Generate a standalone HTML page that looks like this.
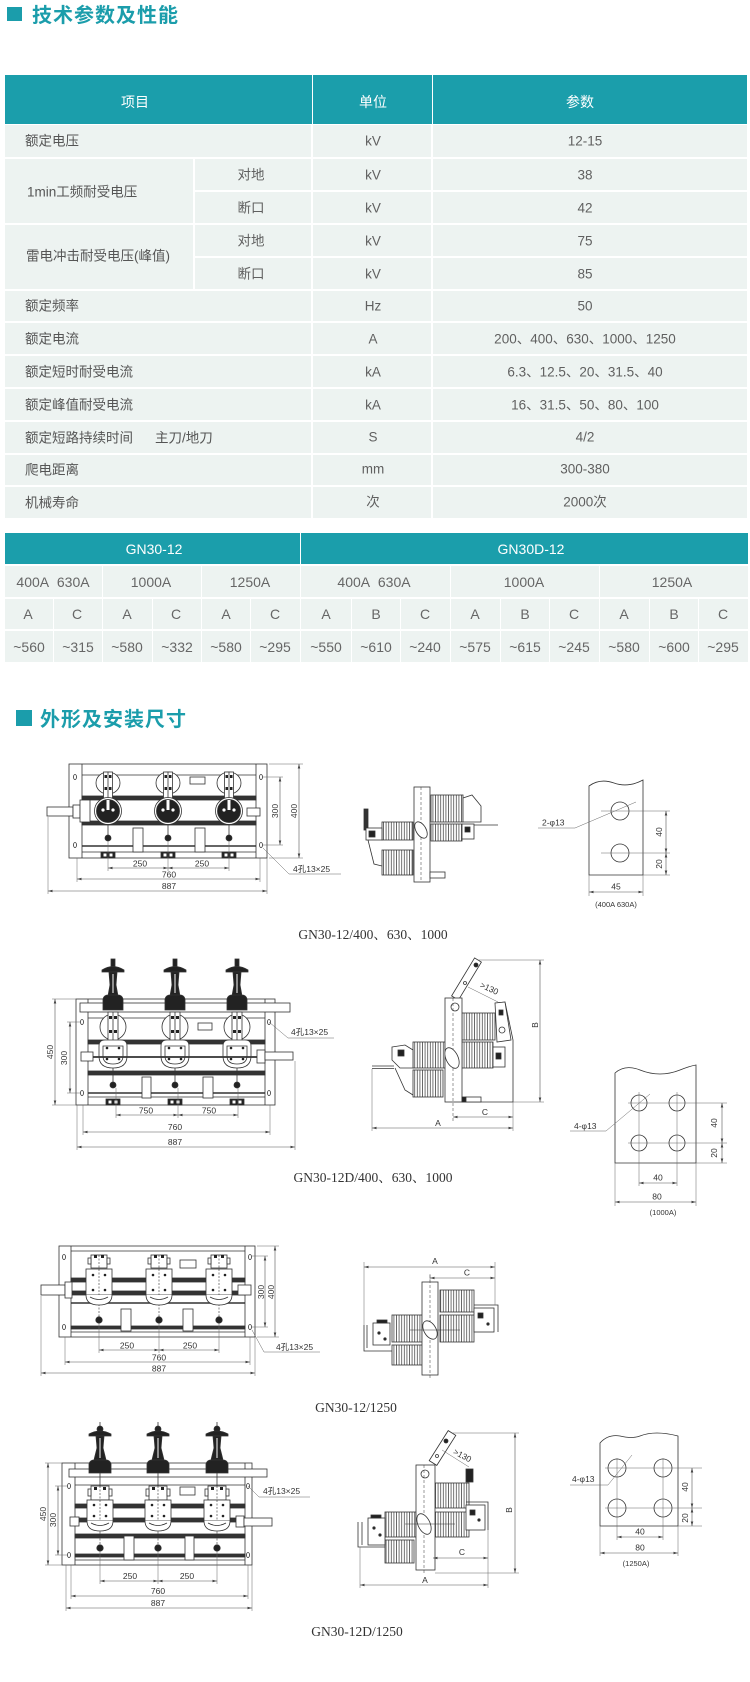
<!DOCTYPE html>
<html lang="zh"><head><meta charset="utf-8"><title>GN30</title>
<style>
*{margin:0;padding:0;box-sizing:border-box}
html,body{width:750px;height:1682px;background:#fff;overflow:hidden}
body{position:relative;font-family:"Liberation Sans","Noto Sans CJK SC",sans-serif}
.sq{position:absolute;background:#1b9dab}
.tt{position:absolute;font-family:"Noto Sans CJK SC","WenQuanYi Zen Hei",sans-serif;font-weight:700;font-size:20px;line-height:20px;letter-spacing:1px;color:#1b9dab;white-space:nowrap}
.c{position:absolute;background:#edf3f1}
.h{background:#1b9eab}
.x{position:absolute;line-height:1;white-space:nowrap;transform:translate(-50%,-50%);font-size:13.5px;color:#606060}
.y{position:absolute;line-height:1;white-space:nowrap;transform:translateY(-50%);font-size:13.5px;color:#555}
.w{color:#fff;font-size:14px}
.z{font-size:14px;color:#666}
svg{position:absolute;left:0;top:0}
</style></head><body>

<div class="sq" style="left:7px;top:7px;width:15px;height:14px"></div>
<div class="tt" style="left:32px;top:4px">技术参数及性能</div>

<!-- TABLE 1 -->
<div class="c h" style="left:5px;top:75px;width:307px;height:49px"></div>
<div class="c h" style="left:313px;top:75px;width:119px;height:49px"></div>
<div class="c h" style="left:433px;top:75px;width:314px;height:49px"></div>
<div class="x w" style="left:135px;top:102px">项目</div>
<div class="x w" style="left:373px;top:102px">单位</div>
<div class="x w" style="left:580px;top:102px">参数</div>

<!-- r1 -->
<div class="c" style="left:5px;top:125px;width:306px;height:32px"></div>
<div class="c" style="left:313px;top:125px;width:118px;height:32px"></div>
<div class="c" style="left:433px;top:125px;width:314px;height:32px"></div>
<!-- r2 -->
<div class="c" style="left:5px;top:159px;width:188px;height:64px"></div>
<div class="c" style="left:195px;top:159px;width:116px;height:31px"></div>
<div class="c" style="left:313px;top:159px;width:118px;height:31px"></div>
<div class="c" style="left:433px;top:159px;width:314px;height:31px"></div>
<div class="c" style="left:195px;top:192px;width:116px;height:31px"></div>
<div class="c" style="left:313px;top:192px;width:118px;height:31px"></div>
<div class="c" style="left:433px;top:192px;width:314px;height:31px"></div>
<!-- r3 -->
<div class="c" style="left:5px;top:225px;width:188px;height:64px"></div>
<div class="c" style="left:195px;top:225px;width:116px;height:31px"></div>
<div class="c" style="left:313px;top:225px;width:118px;height:31px"></div>
<div class="c" style="left:433px;top:225px;width:314px;height:31px"></div>
<div class="c" style="left:195px;top:258px;width:116px;height:31px"></div>
<div class="c" style="left:313px;top:258px;width:118px;height:31px"></div>
<div class="c" style="left:433px;top:258px;width:314px;height:31px"></div>
<!-- r4..r10 -->
<div class="c" style="left:5px;top:291px;width:306px;height:30px"></div>
<div class="c" style="left:313px;top:291px;width:118px;height:30px"></div>
<div class="c" style="left:433px;top:291px;width:314px;height:30px"></div>
<div class="c" style="left:5px;top:323px;width:306px;height:31px"></div>
<div class="c" style="left:313px;top:323px;width:118px;height:31px"></div>
<div class="c" style="left:433px;top:323px;width:314px;height:31px"></div>
<div class="c" style="left:5px;top:356px;width:306px;height:31px"></div>
<div class="c" style="left:313px;top:356px;width:118px;height:31px"></div>
<div class="c" style="left:433px;top:356px;width:314px;height:31px"></div>
<div class="c" style="left:5px;top:389px;width:306px;height:31px"></div>
<div class="c" style="left:313px;top:389px;width:118px;height:31px"></div>
<div class="c" style="left:433px;top:389px;width:314px;height:31px"></div>
<div class="c" style="left:5px;top:422px;width:306px;height:31px"></div>
<div class="c" style="left:313px;top:422px;width:118px;height:31px"></div>
<div class="c" style="left:433px;top:422px;width:314px;height:31px"></div>
<div class="c" style="left:5px;top:455px;width:306px;height:30px"></div>
<div class="c" style="left:313px;top:455px;width:118px;height:30px"></div>
<div class="c" style="left:433px;top:455px;width:314px;height:30px"></div>
<div class="c" style="left:5px;top:487px;width:306px;height:31px"></div>
<div class="c" style="left:313px;top:487px;width:118px;height:31px"></div>
<div class="c" style="left:433px;top:487px;width:314px;height:31px"></div>

<div class="y" style="left:25px;top:141px">额定电压</div>
<div class="x" style="left:373px;top:141px">kV</div>
<div class="x" style="left:585px;top:141px">12-15</div>

<div class="y" style="left:27px;top:192px">1min工频耐受电压</div>
<div class="x" style="left:251px;top:175px">对地</div>
<div class="x" style="left:373px;top:175px">kV</div>
<div class="x" style="left:585px;top:175px">38</div>
<div class="x" style="left:251px;top:208px">断口</div>
<div class="x" style="left:373px;top:208px">kV</div>
<div class="x" style="left:585px;top:208px">42</div>

<div class="y" style="left:26px;top:256px">雷电冲击耐受电压(峰值)</div>
<div class="x" style="left:251px;top:241px">对地</div>
<div class="x" style="left:373px;top:241px">kV</div>
<div class="x" style="left:585px;top:241px">75</div>
<div class="x" style="left:251px;top:274px">断口</div>
<div class="x" style="left:373px;top:274px">kV</div>
<div class="x" style="left:585px;top:274px">85</div>

<div class="y" style="left:25px;top:306px">额定频率</div>
<div class="x" style="left:373px;top:306px">Hz</div>
<div class="x" style="left:585px;top:306px">50</div>

<div class="y" style="left:25px;top:339px">额定电流</div>
<div class="x" style="left:373px;top:339px">A</div>
<div class="x" style="left:585px;top:339px">200、400、630、1000、1250</div>

<div class="y" style="left:25px;top:372px">额定短时耐受电流</div>
<div class="x" style="left:373px;top:372px">kA</div>
<div class="x" style="left:585px;top:372px">6.3、12.5、20、31.5、40</div>

<div class="y" style="left:25px;top:405px">额定峰值耐受电流</div>
<div class="x" style="left:373px;top:405px">kA</div>
<div class="x" style="left:585px;top:405px">16、31.5、50、80、100</div>

<div class="y" style="left:25px;top:438px">额定短路持续时间</div>
<div class="y" style="left:155px;top:438px">主刀/地刀</div>
<div class="x" style="left:373px;top:437px">S</div>
<div class="x" style="left:585px;top:437px">4/2</div>

<div class="y" style="left:25px;top:470px">爬电距离</div>
<div class="x" style="left:373px;top:469px">mm</div>
<div class="x" style="left:585px;top:469px">300-380</div>

<div class="y" style="left:25px;top:503px">机械寿命</div>
<div class="x" style="left:373px;top:502px">次</div>
<div class="x" style="left:585px;top:502px">2000次</div>

<!-- TABLE 2 -->
<div class="c h" style="left:5px;top:533px;width:295px;height:31px"></div>
<div class="c h" style="left:301px;top:533px;width:447px;height:31px"></div>
<div class="x w" style="left:154px;top:549px">GN30-12</div>
<div class="x w" style="left:531px;top:549px">GN30D-12</div>

<div class="c" style="left:5px;top:566px;width:97px;height:31px"></div>
<div class="c" style="left:103px;top:566px;width:98px;height:31px"></div>
<div class="c" style="left:202px;top:566px;width:98px;height:31px"></div>
<div class="c" style="left:301px;top:566px;width:149px;height:31px"></div>
<div class="c" style="left:451px;top:566px;width:148px;height:31px"></div>
<div class="c" style="left:600px;top:566px;width:148px;height:31px"></div>
<div class="x z" style="left:53px;top:582px">400A&nbsp;&nbsp;630A</div>
<div class="x z" style="left:151px;top:582px">1000A</div>
<div class="x z" style="left:250px;top:582px">1250A</div>
<div class="x z" style="left:374px;top:582px">400A&nbsp;&nbsp;630A</div>
<div class="x z" style="left:524px;top:582px">1000A</div>
<div class="x z" style="left:672px;top:582px">1250A</div>

<!-- row3 & row4 cells -->
<div class="c" style="left:5px;top:599px;width:48px;height:30px"></div>
<div class="c" style="left:54px;top:599px;width:48px;height:30px"></div>
<div class="c" style="left:103px;top:599px;width:49px;height:30px"></div>
<div class="c" style="left:153px;top:599px;width:48px;height:30px"></div>
<div class="c" style="left:202px;top:599px;width:48px;height:30px"></div>
<div class="c" style="left:251px;top:599px;width:49px;height:30px"></div>
<div class="c" style="left:301px;top:599px;width:50px;height:30px"></div>
<div class="c" style="left:352px;top:599px;width:48px;height:30px"></div>
<div class="c" style="left:401px;top:599px;width:49px;height:30px"></div>
<div class="c" style="left:451px;top:599px;width:49px;height:30px"></div>
<div class="c" style="left:501px;top:599px;width:48px;height:30px"></div>
<div class="c" style="left:550px;top:599px;width:49px;height:30px"></div>
<div class="c" style="left:600px;top:599px;width:49px;height:30px"></div>
<div class="c" style="left:650px;top:599px;width:48px;height:30px"></div>
<div class="c" style="left:699px;top:599px;width:49px;height:30px"></div>

<div class="c" style="left:5px;top:631px;width:48px;height:31px"></div>
<div class="c" style="left:54px;top:631px;width:48px;height:31px"></div>
<div class="c" style="left:103px;top:631px;width:49px;height:31px"></div>
<div class="c" style="left:153px;top:631px;width:48px;height:31px"></div>
<div class="c" style="left:202px;top:631px;width:48px;height:31px"></div>
<div class="c" style="left:251px;top:631px;width:49px;height:31px"></div>
<div class="c" style="left:301px;top:631px;width:50px;height:31px"></div>
<div class="c" style="left:352px;top:631px;width:48px;height:31px"></div>
<div class="c" style="left:401px;top:631px;width:49px;height:31px"></div>
<div class="c" style="left:451px;top:631px;width:49px;height:31px"></div>
<div class="c" style="left:501px;top:631px;width:48px;height:31px"></div>
<div class="c" style="left:550px;top:631px;width:49px;height:31px"></div>
<div class="c" style="left:600px;top:631px;width:49px;height:31px"></div>
<div class="c" style="left:650px;top:631px;width:48px;height:31px"></div>
<div class="c" style="left:699px;top:631px;width:49px;height:31px"></div>

<div class="x z" style="left:28px;top:614px">A</div>
<div class="x z" style="left:77px;top:614px">C</div>
<div class="x z" style="left:127px;top:614px">A</div>
<div class="x z" style="left:176px;top:614px">C</div>
<div class="x z" style="left:226px;top:614px">A</div>
<div class="x z" style="left:275px;top:614px">C</div>
<div class="x z" style="left:326px;top:614px">A</div>
<div class="x z" style="left:376px;top:614px">B</div>
<div class="x z" style="left:425px;top:614px">C</div>
<div class="x z" style="left:475px;top:614px">A</div>
<div class="x z" style="left:525px;top:614px">B</div>
<div class="x z" style="left:574px;top:614px">C</div>
<div class="x z" style="left:624px;top:614px">A</div>
<div class="x z" style="left:674px;top:614px">B</div>
<div class="x z" style="left:723px;top:614px">C</div>

<div class="x z" style="left:29px;top:647px">~560</div>
<div class="x z" style="left:78px;top:647px">~315</div>
<div class="x z" style="left:127px;top:647px">~580</div>
<div class="x z" style="left:177px;top:647px">~332</div>
<div class="x z" style="left:226px;top:647px">~580</div>
<div class="x z" style="left:275px;top:647px">~295</div>
<div class="x z" style="left:326px;top:647px">~550</div>
<div class="x z" style="left:376px;top:647px">~610</div>
<div class="x z" style="left:425px;top:647px">~240</div>
<div class="x z" style="left:475px;top:647px">~575</div>
<div class="x z" style="left:525px;top:647px">~615</div>
<div class="x z" style="left:574px;top:647px">~245</div>
<div class="x z" style="left:624px;top:647px">~580</div>
<div class="x z" style="left:674px;top:647px">~600</div>
<div class="x z" style="left:723px;top:647px">~295</div>

<div class="sq" style="left:16px;top:710px;width:16px;height:16px"></div>
<div class="tt" style="left:40px;top:708px">外形及安装尺寸</div>

<svg width="750" height="1682" viewBox="0 0 750 1682">
<defs>
<marker id="ar" viewBox="0 0 6 4" refX="6" refY="2" markerWidth="5" markerHeight="3" orient="auto-start-reverse" markerUnits="userSpaceOnUse"><path d="M0,0.3 L6,2 L0,3.7z" fill="#444"/></marker>
<pattern id="rb" width="2.6" height="6" patternUnits="userSpaceOnUse"><rect width="2.6" height="6" fill="#fff"/><line x1="1.3" y1="0" x2="1.3" y2="6" stroke="#333" stroke-width="0.7"/></pattern>

<g id="p1" stroke="#333" stroke-width="0.8">
 <ellipse cx="0" cy="783" rx="12" ry="11" fill="#fff"/>
 <rect x="-4.5" y="772" width="9" height="26" fill="#fff"/>
 <line x1="0" y1="772" x2="0" y2="798"/>
 <rect x="-3.5" y="775" width="2.5" height="3" fill="#222" stroke="none"/>
 <rect x="1" y="775" width="2.5" height="3" fill="#222" stroke="none"/>
 <rect x="-3.5" y="787" width="2.5" height="3" fill="#222" stroke="none"/>
 <rect x="1" y="787" width="2.5" height="3" fill="#222" stroke="none"/>
 <circle cx="0" cy="811" r="13.5" fill="#fff"/>
 <circle cx="0" cy="811" r="11.5" fill="#222"/>
 <rect x="-1.5" y="800" width="3" height="10" fill="#fff" stroke="none"/>
 <circle cx="-5" cy="810" r="1.6" fill="#fff" stroke="none"/>
 <circle cx="5" cy="810" r="1.6" fill="#fff" stroke="none"/>
 <line x1="0" y1="824" x2="0" y2="836"/>
 <circle cx="0" cy="838" r="3" fill="#222"/>
 <rect x="-7" y="852" width="14" height="6" fill="#222"/>
 <rect x="-4.5" y="853.5" width="3" height="3" fill="#fff" stroke="none"/>
 <rect x="1.5" y="853.5" width="3" height="3" fill="#fff" stroke="none"/>
</g>

<g id="p2" stroke="#333" stroke-width="0.8">
 <rect x="-2" y="959" width="4" height="8" fill="#222"/>
 <path d="M-11,970 Q0,963 11,970 L11,972 L-11,972 Z" fill="#222"/>
 <path d="M-4,972 L4,972 L3,985 L5,996 L-5,996 L-3,985 Z" fill="#222"/>
 <line x1="0" y1="974" x2="0" y2="993" stroke="#fff" stroke-width="1"/>
 <path d="M-10,1010 L-10,999 Q-9,995 -5,995 L5,995 Q9,995 10,999 L10,1010 Z" fill="#222"/>
 <circle cx="0" cy="1027" r="13" fill="#fff"/>
 <rect x="-5" y="1012" width="10" height="30" fill="#fff"/>
 <line x1="0" y1="1012" x2="0" y2="1042"/>
 <rect x="-4" y="1016" width="3" height="3" fill="#222" stroke="none"/>
 <rect x="1" y="1016" width="3" height="3" fill="#222" stroke="none"/>
 <rect x="-4" y="1030" width="3" height="3" fill="#222" stroke="none"/>
 <rect x="1" y="1030" width="3" height="3" fill="#222" stroke="none"/>
 <path d="M-14,1046 Q-14,1040 -8,1040 L8,1040 Q14,1040 14,1046 L14,1056 Q14,1068 0,1068 Q-14,1068 -14,1056 Z" fill="#fff"/>
 <path d="M-10,1046 L10,1046 L10,1056 Q10,1064 0,1064 Q-10,1064 -10,1056 Z" fill="none"/>
 <circle cx="-6" cy="1048" r="1.3" fill="#222" stroke="none"/>
 <circle cx="6" cy="1048" r="1.3" fill="#222" stroke="none"/>
 <circle cx="-6" cy="1059" r="1.3" fill="#222" stroke="none"/>
 <circle cx="6" cy="1059" r="1.3" fill="#222" stroke="none"/>
 <line x1="0" y1="1068" x2="0" y2="1083"/>
 <circle cx="0" cy="1085" r="3" fill="#222"/>
 <rect x="-7" y="1099" width="14" height="6" fill="#222"/>
 <rect x="-4.5" y="1100.5" width="3" height="3" fill="#fff" stroke="none"/>
 <rect x="1.5" y="1100.5" width="3" height="3" fill="#fff" stroke="none"/>
</g>

<g id="p3" stroke="#333" stroke-width="0.8">
 <rect x="-8" y="1255" width="16" height="13" fill="#fff"/>
 <rect x="-11" y="1258" width="3" height="6" fill="#fff"/>
 <rect x="8" y="1258" width="3" height="6" fill="#fff"/>
 <rect x="-5" y="1255" width="3" height="3" fill="#222" stroke="none"/>
 <rect x="2" y="1255" width="3" height="3" fill="#222" stroke="none"/>
 <rect x="-13" y="1269" width="26" height="26" fill="#fff"/>
 <line x1="0" y1="1255" x2="0" y2="1318" stroke-dasharray="2,1.5" stroke-width="0.6"/>
 <circle cx="-6" cy="1275" r="1.3" fill="#222" stroke="none"/>
 <circle cx="6" cy="1275" r="1.3" fill="#222" stroke="none"/>
 <circle cx="-6" cy="1290" r="1.3" fill="#222" stroke="none"/>
 <circle cx="6" cy="1290" r="1.3" fill="#222" stroke="none"/>
 <path d="M-13,1295 Q-13,1305 0,1305 Q13,1305 13,1295" fill="#fff"/>
 <path d="M-9,1297 Q0,1302 9,1297" fill="none"/>
 <circle cx="0" cy="1320" r="3.2" fill="#222"/>
</g>

<g id="p4" stroke="#333" stroke-width="0.8">
 <line x1="0" y1="1422" x2="0" y2="1428"/>
 <circle cx="0" cy="1429" r="3" fill="#222"/>
 <path d="M-11,1434 Q0,1428 11,1434 L11,1436 L-11,1436 Z" fill="#222"/>
 <path d="M-4,1436 L4,1436 L3,1448 L6,1460 L-6,1460 L-3,1448 Z" fill="#222"/>
 <line x1="0" y1="1438" x2="0" y2="1458" stroke="#fff" stroke-width="1"/>
 <path d="M-11,1473 L-11,1464 Q-10,1460 -6,1460 L6,1460 Q10,1460 11,1464 L11,1473 Z" fill="#222"/>
 <line x1="0" y1="1473" x2="0" y2="1486"/>
 <rect x="-9" y="1486" width="18" height="14" fill="#fff"/>
 <rect x="-12" y="1489" width="3" height="7" fill="#fff"/>
 <rect x="9" y="1489" width="3" height="7" fill="#fff"/>
 <rect x="-6" y="1487" width="3" height="3" fill="#222" stroke="none"/>
 <rect x="3" y="1487" width="3" height="3" fill="#222" stroke="none"/>
 <rect x="-13" y="1500" width="26" height="21" fill="#fff"/>
 <line x1="0" y1="1486" x2="0" y2="1545" stroke-dasharray="2,1.5" stroke-width="0.6"/>
 <circle cx="-6" cy="1505" r="1.3" fill="#222" stroke="none"/>
 <circle cx="6" cy="1505" r="1.3" fill="#222" stroke="none"/>
 <circle cx="-6" cy="1516" r="1.3" fill="#222" stroke="none"/>
 <circle cx="6" cy="1516" r="1.3" fill="#222" stroke="none"/>
 <path d="M-13,1521 Q-13,1531 0,1531 Q13,1531 13,1521" fill="#fff"/>
 <path d="M-9,1523 Q0,1528 9,1523" fill="none"/>
 <circle cx="0" cy="1548" r="3.2" fill="#222"/>
</g>
</defs>

<!-- ================= DRAWING 1 ================= -->
<g stroke="#333" stroke-width="0.8" fill="none">
 <rect x="69" y="764" width="198" height="94" fill="#fff"/>
 <line x1="82" y1="764" x2="82" y2="858"/>
 <line x1="256" y1="764" x2="256" y2="858"/>
 <line x1="82" y1="775" x2="256" y2="775"/>
 <rect x="82" y="796" width="174" height="4" fill="#333"/>
 <rect x="82" y="821" width="174" height="4" fill="#333"/>
 <line x1="82" y1="846" x2="256" y2="846" stroke-width="1.6"/>
 <line x1="82" y1="852" x2="256" y2="852"/>
 <ellipse cx="75" cy="777" rx="1.5" ry="2.5"/>
 <ellipse cx="75" cy="845" rx="1.5" ry="2.5"/>
 <ellipse cx="261" cy="777" rx="1.5" ry="2.5"/>
 <ellipse cx="261" cy="845" rx="1.5" ry="2.5"/>
 <rect x="190" y="777" width="15" height="7"/>
 <rect x="133" y="828" width="10" height="24" fill="#fff"/>
 <rect x="195" y="828" width="10" height="24" fill="#fff"/>
 <rect x="47" y="807" width="26" height="9" fill="#fff"/>
 <rect x="73" y="805" width="7" height="13" fill="#fff"/>
 <rect x="80" y="800" width="10" height="22" fill="#fff"/>
 <rect x="247" y="808" width="13" height="8" fill="#fff"/>
</g>
<use href="#p1" x="108"/><use href="#p1" x="168"/><use href="#p1" x="229"/>
<g stroke="#666" stroke-width="0.5" fill="none">
 <line x1="108" y1="841" x2="108" y2="871"/>
 <line x1="168" y1="841" x2="168" y2="871"/>
 <line x1="229" y1="841" x2="229" y2="871"/>
 <line x1="77" y1="858" x2="77" y2="882"/>
 <line x1="260" y1="858" x2="260" y2="882"/>
 <line x1="48" y1="817" x2="48" y2="894"/>
 <line x1="267" y1="858" x2="267" y2="894"/>
 <line x1="263" y1="777" x2="283" y2="777"/>
 <line x1="263" y1="845" x2="283" y2="845"/>
 <line x1="269" y1="764" x2="303" y2="764"/>
 <line x1="269" y1="858" x2="303" y2="858"/>
 <polyline points="263,848 289,874 341,874"/>
</g>
<g stroke="#555" stroke-width="0.6" marker-start="url(#ar)" marker-end="url(#ar)">
 <line x1="108" y1="868" x2="168" y2="868"/>
 <line x1="168" y1="868" x2="229" y2="868"/>
 <line x1="77" y1="879" x2="260" y2="879"/>
 <line x1="48" y1="891" x2="267" y2="891"/>
 <line x1="280" y1="777" x2="280" y2="845"/>
 <line x1="299" y1="764" x2="299" y2="858"/>
</g>
<g font-family="'Liberation Sans','Noto Sans CJK SC',sans-serif" font-size="8.5" fill="#333" text-anchor="middle">
 <text x="140" y="866.5">250</text><text x="202" y="866.5">250</text>
 <text x="169" y="877.5">760</text>
 <text x="169" y="889">887</text>
 <text transform="translate(278,811) rotate(-90)">300</text>
 <text transform="translate(297,811) rotate(-90)">400</text>
 <text x="293" y="872" text-anchor="start">4孔13×25</text>
</g>

<!-- side view 1 -->
<g stroke="#333" stroke-width="0.8" fill="#fff">
 <rect x="431" y="795" width="32" height="27" fill="url(#rb)"/>
 <rect x="431" y="824" width="31" height="17" fill="url(#rb)"/>
 <path d="M463,798 L472,795 L481,806 L481,822 L463,822 Z"/>
 <rect x="462" y="824" width="12" height="15"/>
 <rect x="465" y="827" width="5" height="5" fill="#222"/>
 <line x1="474" y1="825" x2="498" y2="825"/>
 <rect x="382" y="822" width="31" height="18" fill="url(#rb)"/>
 <rect x="382" y="850" width="31" height="25" fill="url(#rb)"/>
 <rect x="364" y="809" width="4" height="21" fill="#333"/>
 <rect x="366" y="828" width="16" height="12"/>
 <rect x="369" y="831" width="6" height="6" fill="#222"/>
 <polyline points="368,840 374,864 382,866" fill="none"/>
 <rect x="414" y="787" width="16" height="95"/>
 <line x1="421" y1="787" x2="421" y2="882" stroke-dasharray="3,2" stroke-width="0.5"/>
 <ellipse cx="421" cy="830" rx="5" ry="9" transform="rotate(-30 421 830)"/>
 <rect x="430" y="872" width="15" height="6"/>
</g>

<!-- busbar 1 -->
<g stroke="#333" stroke-width="0.8" fill="#fff">
 <path d="M589,786 Q600,778 614,783 Q628,788 643,780 L643,875 L589,875 Z"/>
 <circle cx="620" cy="811" r="9"/>
 <circle cx="620" cy="853" r="9"/>
</g>
<g stroke="#666" stroke-width="0.5" fill="none">
 <line x1="601" y1="811" x2="670" y2="811"/>
 <line x1="601" y1="853" x2="670" y2="853"/>
 <line x1="643" y1="875" x2="670" y2="875"/>
 <line x1="589" y1="875" x2="589" y2="896"/>
 <line x1="643" y1="875" x2="643" y2="896"/>
 <polyline points="636,802 575,828 538,828"/>
</g>
<g stroke="#555" stroke-width="0.6" marker-start="url(#ar)" marker-end="url(#ar)">
 <line x1="666" y1="811" x2="666" y2="853"/>
 <line x1="666" y1="853" x2="666" y2="875"/>
 <line x1="589" y1="892" x2="643" y2="892"/>
</g>
<g font-family="'Liberation Sans','Noto Sans CJK SC',sans-serif" font-size="8.5" fill="#333" text-anchor="middle">
 <text x="542" y="825.5" text-anchor="start">2-φ13</text>
 <text transform="translate(662,832) rotate(-90)">40</text>
 <text transform="translate(662,864) rotate(-90)">20</text>
 <text x="616" y="889.5">45</text>
 <text x="616" y="907" font-size="7.5">(400A 630A)</text>
</g>
<text x="373" y="939" text-anchor="middle" font-family="'Liberation Serif','Noto Serif CJK SC',serif" font-size="13.5" fill="#333">GN30-12/400、630、1000</text>

<!-- ================= DRAWING 2 ================= -->
<g stroke="#333" stroke-width="0.8" fill="none">
 <rect x="76" y="999" width="199" height="106" fill="#fff"/>
 <line x1="88" y1="999" x2="88" y2="1105"/>
 <line x1="265" y1="999" x2="265" y2="1105"/>
 <line x1="88" y1="1018" x2="265" y2="1018"/>
 <rect x="88" y="1040" width="177" height="4" fill="#333"/>
 <rect x="88" y="1071" width="177" height="4" fill="#333"/>
 <line x1="88" y1="1093" x2="265" y2="1093" stroke-width="1.6"/>
 <line x1="88" y1="1097" x2="265" y2="1097"/>
 <rect x="80" y="1003" width="210" height="9" fill="#fff"/>
 <ellipse cx="82" cy="1022" rx="1.5" ry="2.5"/>
 <ellipse cx="82" cy="1093" rx="1.5" ry="2.5"/>
 <ellipse cx="269" cy="1022" rx="1.5" ry="2.5"/>
 <ellipse cx="269" cy="1093" rx="1.5" ry="2.5"/>
 <rect x="198" y="1023" width="14" height="7"/>
</g>
<use href="#p2" x="113"/><use href="#p2" x="175"/><use href="#p2" x="237"/>
<g stroke="#333" stroke-width="0.8" fill="#fff">
 <line x1="88" y1="1057" x2="265" y2="1057" stroke-width="1.8"/>
 <rect x="142" y="1077" width="9" height="21"/>
 <rect x="203" y="1077" width="10" height="21"/>
 <rect x="81" y="1052" width="12" height="9"/>
 <rect x="257" y="1050" width="8" height="13"/>
 <rect x="265" y="1052" width="28" height="8"/>
</g>
<g stroke="#666" stroke-width="0.5" fill="none">
 <line x1="52" y1="999" x2="76" y2="999"/>
 <line x1="52" y1="1105" x2="76" y2="1105"/>
 <line x1="67" y1="1022" x2="80" y2="1022"/>
 <line x1="67" y1="1093" x2="80" y2="1093"/>
 <line x1="116" y1="1088" x2="116" y2="1118"/>
 <line x1="178" y1="1088" x2="178" y2="1118"/>
 <line x1="238" y1="1088" x2="238" y2="1118"/>
 <line x1="83" y1="1105" x2="83" y2="1135"/>
 <line x1="270" y1="1105" x2="270" y2="1135"/>
 <line x1="77" y1="1105" x2="77" y2="1150"/>
 <line x1="295" y1="1061" x2="295" y2="1150"/>
 <polyline points="269,1022 288,1038 334,1038"/>
</g>
<g stroke="#555" stroke-width="0.6" marker-start="url(#ar)" marker-end="url(#ar)">
 <line x1="55" y1="999" x2="55" y2="1105"/>
 <line x1="70" y1="1022" x2="70" y2="1093"/>
 <line x1="116" y1="1115" x2="178" y2="1115"/>
 <line x1="178" y1="1115" x2="238" y2="1115"/>
 <line x1="83" y1="1132" x2="270" y2="1132"/>
 <line x1="77" y1="1147" x2="295" y2="1147"/>
</g>
<g font-family="'Liberation Sans','Noto Sans CJK SC',sans-serif" font-size="8.5" fill="#333" text-anchor="middle">
 <text transform="translate(53,1052) rotate(-90)">450</text>
 <text transform="translate(67,1058) rotate(-90)">300</text>
 <text x="146" y="1113.5">750</text><text x="209" y="1113.5">750</text>
 <text x="175" y="1130">760</text>
 <text x="175" y="1145">887</text>
 <text x="291" y="1035" text-anchor="start">4孔13×25</text>
</g>

<!-- side view 2 -->
<g stroke="#333" stroke-width="0.8" fill="#fff">
 <polygon points="451.6,995.9 458.4,1000.1 481.4,962.1 474.6,957.9"/>
 <circle cx="476" cy="965" r="2" fill="#222"/>
 <circle cx="465" cy="983" r="1.5"/>
 <rect x="462" y="1013" width="33" height="27" fill="url(#rb)"/>
 <rect x="462" y="1042" width="31" height="26" fill="url(#rb)"/>
 <path d="M495,1003 L505,1002 L513,1040 L513,1102 L462,1102" fill="none"/>
 <path d="M495,1003 L505,1002 L511,1040 L497,1042 Z"/>
 <rect x="499" y="1010" width="4" height="5" fill="#222"/>
 <circle cx="502" cy="1030" r="3"/>
 <rect x="493" y="1047" width="12" height="20"/>
 <rect x="496" y="1053" width="5" height="6" fill="#222"/>
 <rect x="413" y="1042" width="32" height="26" fill="url(#rb)"/>
 <rect x="413" y="1070" width="30" height="27" fill="url(#rb)"/>
 <path d="M392,1047 L405,1045 L413,1050 L413,1068 L400,1068 L392,1060 Z"/>
 <rect x="398" y="1050" width="6" height="6" fill="#222"/>
 <line x1="372" y1="1066" x2="394" y2="1066"/>
 <line x1="372" y1="1068.5" x2="394" y2="1068.5"/>
 <polyline points="395,1068 405,1090 413,1095" fill="none"/>
 <rect x="445" y="998" width="17" height="104"/>
 <circle cx="455" cy="1007" r="4"/>
 <line x1="453" y1="998" x2="453" y2="1121" stroke-dasharray="3,2" stroke-width="0.5"/>
 <ellipse cx="452" cy="1058" rx="6" ry="11" transform="rotate(-25 452 1058)"/>
 <rect x="462" y="1097" width="4" height="5" fill="#222"/>
 <rect x="466" y="1097" width="15" height="5"/>
</g>
<g stroke="#666" stroke-width="0.5" fill="none">
 <line x1="478" y1="960" x2="544" y2="960"/>
 <line x1="513" y1="1102" x2="544" y2="1102"/>
 <line x1="468" y1="987" x2="498" y2="1002"/>
 <line x1="372" y1="1069" x2="372" y2="1131"/>
 <line x1="513" y1="1102" x2="513" y2="1131"/>
</g>
<g stroke="#555" stroke-width="0.6" marker-start="url(#ar)" marker-end="url(#ar)">
 <line x1="540" y1="960" x2="540" y2="1102"/>
 <line x1="453" y1="1117" x2="513" y2="1117"/>
 <line x1="372" y1="1128" x2="513" y2="1128"/>
</g>
<g font-family="'Liberation Sans','Noto Sans CJK SC',sans-serif" font-size="8.5" fill="#333" text-anchor="middle">
 <text transform="translate(488,991) rotate(25)">&gt;130</text>
 <text transform="translate(538,1025) rotate(-90)">B</text>
 <text x="485" y="1115">C</text>
 <text x="438" y="1126">A</text>
</g>

<!-- busbar 2 -->
<g stroke="#333" stroke-width="0.8" fill="#fff">
 <path d="M615,1073 Q625,1064 640,1070 Q660,1078 680,1070 Q690,1066 696,1065 L696,1163 L615,1163 Z"/>
 <circle cx="639" cy="1103" r="8"/>
 <circle cx="677" cy="1103" r="8"/>
 <circle cx="639" cy="1143" r="8"/>
 <circle cx="677" cy="1143" r="8"/>
</g>
<g stroke="#666" stroke-width="0.5" fill="none">
 <line x1="628" y1="1103" x2="727" y2="1103"/>
 <line x1="628" y1="1143" x2="727" y2="1143"/>
 <line x1="696" y1="1163" x2="727" y2="1163"/>
 <line x1="639" y1="1092" x2="639" y2="1186"/>
 <line x1="677" y1="1092" x2="677" y2="1186"/>
 <line x1="615" y1="1163" x2="615" y2="1206"/>
 <line x1="696" y1="1163" x2="696" y2="1206"/>
 <polyline points="650,1094 606,1131 570,1131"/>
</g>
<g stroke="#555" stroke-width="0.6" marker-start="url(#ar)" marker-end="url(#ar)">
 <line x1="722" y1="1103" x2="722" y2="1143"/>
 <line x1="722" y1="1143" x2="722" y2="1163"/>
 <line x1="639" y1="1183" x2="677" y2="1183"/>
 <line x1="615" y1="1202" x2="696" y2="1202"/>
</g>
<g font-family="'Liberation Sans','Noto Sans CJK SC',sans-serif" font-size="8.5" fill="#333" text-anchor="middle">
 <text x="574" y="1129" text-anchor="start">4-φ13</text>
 <text transform="translate(717,1123) rotate(-90)">40</text>
 <text transform="translate(717,1153) rotate(-90)">20</text>
 <text x="658" y="1180.5">40</text>
 <text x="657" y="1199.5">80</text>
 <text x="663" y="1215" font-size="7.5">(1000A)</text>
</g>
<text x="373" y="1182" text-anchor="middle" font-family="'Liberation Serif','Noto Serif CJK SC',serif" font-size="13.5" fill="#333">GN30-12D/400、630、1000</text>

<!-- ================= DRAWING 3 ================= -->
<g stroke="#333" stroke-width="0.8" fill="none">
 <rect x="59" y="1246" width="196" height="91" fill="#fff"/>
 <line x1="71" y1="1246" x2="71" y2="1337"/>
 <line x1="245" y1="1246" x2="245" y2="1337"/>
 <line x1="71" y1="1251" x2="245" y2="1251"/>
 <rect x="71" y="1278" width="174" height="4" fill="#333"/>
 <rect x="71" y="1291" width="174" height="4" fill="#333"/>
 <line x1="71" y1="1303" x2="245" y2="1303" stroke-width="1.4"/>
 <rect x="71" y="1326" width="174" height="3" fill="#333"/>
 <line x1="71" y1="1332" x2="245" y2="1332"/>
 <ellipse cx="64" cy="1257" rx="1.5" ry="2.5"/>
 <ellipse cx="64" cy="1327" rx="1.5" ry="2.5"/>
 <ellipse cx="250" cy="1257" rx="1.5" ry="2.5"/>
 <ellipse cx="250" cy="1327" rx="1.5" ry="2.5"/>
 <rect x="180" y="1260" width="16" height="8"/>
</g>
<use href="#p3" x="99"/><use href="#p3" x="159"/><use href="#p3" x="219"/>
<g stroke="#333" stroke-width="0.8" fill="#fff">
 <rect x="121" y="1309" width="10" height="22"/>
 <rect x="183" y="1309" width="10" height="22"/>
 <rect x="41" y="1285" width="24" height="10"/>
 <rect x="65" y="1282" width="7" height="16"/>
 <rect x="238" y="1285" width="13" height="10"/>
</g>
<g stroke="#666" stroke-width="0.5" fill="none">
 <line x1="99" y1="1323" x2="99" y2="1353"/>
 <line x1="159" y1="1323" x2="159" y2="1353"/>
 <line x1="219" y1="1323" x2="219" y2="1353"/>
 <line x1="65" y1="1337" x2="65" y2="1365"/>
 <line x1="250" y1="1337" x2="250" y2="1365"/>
 <line x1="41" y1="1296" x2="41" y2="1376"/>
 <line x1="255" y1="1337" x2="255" y2="1376"/>
 <line x1="252" y1="1256" x2="268" y2="1256"/>
 <line x1="252" y1="1327" x2="268" y2="1327"/>
 <line x1="257" y1="1246" x2="279" y2="1246"/>
 <line x1="257" y1="1337" x2="279" y2="1337"/>
 <polyline points="252,1330 264,1352 320,1352"/>
</g>
<g stroke="#555" stroke-width="0.6" marker-start="url(#ar)" marker-end="url(#ar)">
 <line x1="99" y1="1350" x2="159" y2="1350"/>
 <line x1="159" y1="1350" x2="219" y2="1350"/>
 <line x1="65" y1="1362" x2="250" y2="1362"/>
 <line x1="41" y1="1373" x2="255" y2="1373"/>
 <line x1="265" y1="1256" x2="265" y2="1327"/>
 <line x1="275" y1="1246" x2="275" y2="1337"/>
</g>
<g font-family="'Liberation Sans','Noto Sans CJK SC',sans-serif" font-size="8.5" fill="#333" text-anchor="middle">
 <text x="127" y="1348.5">250</text><text x="190" y="1348.5">250</text>
 <text x="159" y="1360.5">760</text>
 <text x="159" y="1371.5">887</text>
 <text transform="translate(264,1292) rotate(-90)">300</text>
 <text transform="translate(274,1292) rotate(-90)">400</text>
 <text x="276" y="1350" text-anchor="start">4孔13×25</text>
</g>

<!-- side view 3 -->
<g stroke="#333" stroke-width="0.8" fill="#fff">
 <rect x="440" y="1290" width="34" height="22" fill="url(#rb)"/>
 <rect x="440" y="1315" width="34" height="27" fill="url(#rb)"/>
 <polyline points="474,1305 498,1305 498,1332" fill="none"/>
 <rect x="474" y="1308" width="20" height="24"/>
 <rect x="478" y="1313" width="5" height="5" fill="#222"/>
 <circle cx="488" cy="1324" r="1.2" fill="#222"/>
 <rect x="392" y="1315" width="30" height="27" fill="url(#rb)"/>
 <rect x="392" y="1345" width="30" height="20" fill="url(#rb)"/>
 <rect x="373" y="1323" width="17" height="22"/>
 <rect x="377" y="1320" width="10" height="3" fill="#222"/>
 <circle cx="379" cy="1333" r="1.2" fill="#222"/>
 <circle cx="385" cy="1339" r="1.2" fill="#222"/>
 <polyline points="364,1325 364,1351 392,1351" fill="none"/>
 <line x1="367" y1="1325" x2="367" y2="1348"/>
 <rect x="422" y="1282" width="16" height="93"/>
 <line x1="430" y1="1275" x2="430" y2="1378" stroke-dasharray="3,2" stroke-width="0.5"/>
 <ellipse cx="430" cy="1330" rx="6" ry="10" transform="rotate(-30 430 1330)"/>
 <line x1="410" y1="1330" x2="460" y2="1330" stroke-width="0.5"/>
</g>
<g stroke="#666" stroke-width="0.5" fill="none">
 <line x1="364" y1="1262" x2="364" y2="1325"/>
 <line x1="495" y1="1262" x2="495" y2="1305"/>
 <line x1="430" y1="1274" x2="430" y2="1282"/>
</g>
<g stroke="#555" stroke-width="0.6" marker-start="url(#ar)" marker-end="url(#ar)">
 <line x1="364" y1="1267" x2="495" y2="1267"/>
 <line x1="430" y1="1278" x2="495" y2="1278"/>
</g>
<g font-family="'Liberation Sans','Noto Sans CJK SC',sans-serif" font-size="8.5" fill="#333" text-anchor="middle">
 <text x="435" y="1264">A</text>
 <text x="467" y="1275.5">C</text>
</g>
<text x="356" y="1412" text-anchor="middle" font-family="'Liberation Serif','Noto Serif CJK SC',serif" font-size="13.5" fill="#333">GN30-12/1250</text>

<!-- ================= DRAWING 4 ================= -->
<g stroke="#333" stroke-width="0.8" fill="none">
 <rect x="62" y="1463" width="190" height="102" fill="#fff"/>
 <line x1="75" y1="1463" x2="75" y2="1565"/>
 <line x1="245" y1="1463" x2="245" y2="1565"/>
 <line x1="75" y1="1485" x2="245" y2="1485"/>
 <rect x="75" y="1504" width="170" height="4" fill="#333"/>
 <rect x="75" y="1518" width="170" height="4" fill="#333"/>
 <rect x="75" y="1534" width="170" height="4" fill="#333"/>
 <rect x="75" y="1554" width="170" height="3" fill="#333"/>
 <line x1="75" y1="1560" x2="245" y2="1560"/>
 <rect x="69" y="1469" width="198" height="8" fill="#fff"/>
 <ellipse cx="69" cy="1486" rx="1.5" ry="2.5"/>
 <ellipse cx="69" cy="1555" rx="1.5" ry="2.5"/>
 <ellipse cx="248" cy="1486" rx="1.5" ry="2.5"/>
 <ellipse cx="248" cy="1555" rx="1.5" ry="2.5"/>
 <rect x="180" y="1487" width="15" height="8"/>
</g>
<use href="#p4" x="100"/><use href="#p4" x="158"/><use href="#p4" x="217"/>
<g stroke="#333" stroke-width="0.8" fill="#fff">
 <rect x="124" y="1536" width="10" height="24"/>
 <rect x="185" y="1536" width="9" height="24"/>
 <rect x="70" y="1517" width="9" height="9"/>
 <rect x="236" y="1516" width="8" height="11"/>
 <rect x="244" y="1518" width="28" height="8"/>
</g>
<g stroke="#666" stroke-width="0.5" fill="none">
 <line x1="45" y1="1463" x2="62" y2="1463"/>
 <line x1="45" y1="1565" x2="62" y2="1565"/>
 <line x1="55" y1="1486" x2="67" y2="1486"/>
 <line x1="55" y1="1555" x2="67" y2="1555"/>
 <line x1="100" y1="1551" x2="100" y2="1584"/>
 <line x1="158" y1="1551" x2="158" y2="1584"/>
 <line x1="217" y1="1551" x2="217" y2="1584"/>
 <line x1="71" y1="1565" x2="71" y2="1599"/>
 <line x1="248" y1="1565" x2="248" y2="1599"/>
 <line x1="66" y1="1565" x2="66" y2="1611"/>
 <line x1="252" y1="1565" x2="252" y2="1611"/>
 <polyline points="248,1486 259,1497 310,1497"/>
</g>
<g stroke="#555" stroke-width="0.6" marker-start="url(#ar)" marker-end="url(#ar)">
 <line x1="48" y1="1463" x2="48" y2="1565"/>
 <line x1="58" y1="1486" x2="58" y2="1555"/>
 <line x1="100" y1="1581" x2="158" y2="1581"/>
 <line x1="158" y1="1581" x2="217" y2="1581"/>
 <line x1="71" y1="1596" x2="248" y2="1596"/>
 <line x1="66" y1="1608" x2="252" y2="1608"/>
</g>
<g font-family="'Liberation Sans','Noto Sans CJK SC',sans-serif" font-size="8.5" fill="#333" text-anchor="middle">
 <text transform="translate(46,1514) rotate(-90)">450</text>
 <text transform="translate(56,1520) rotate(-90)">300</text>
 <text x="130" y="1579">250</text><text x="187" y="1579">250</text>
 <text x="158" y="1594">760</text>
 <text x="158" y="1606">887</text>
 <text x="263" y="1494" text-anchor="start">4孔13×25</text>
</g>

<!-- side view 4 -->
<g stroke="#333" stroke-width="0.8" fill="#fff">
 <polygon points="429.2,1460.6 436.8,1465.4 455.8,1435.4 448.2,1430.6"/>
 <circle cx="446" cy="1441" r="2" fill="#222"/>
 <circle cx="437" cy="1456" r="1.5"/>
 <rect x="466" y="1469" width="7" height="13" fill="#222"/>
 <rect x="435" y="1483" width="34" height="25" fill="url(#rb)"/>
 <rect x="435" y="1512" width="34" height="25" fill="url(#rb)"/>
 <polyline points="466,1502 488,1502 488,1530" fill="none"/>
 <rect x="466" y="1505" width="19" height="25"/>
 <rect x="470" y="1510" width="5" height="5" fill="#222"/>
 <circle cx="479" cy="1520" r="1.2" fill="#222"/>
 <rect x="385" y="1512" width="31" height="25" fill="url(#rb)"/>
 <rect x="385" y="1540" width="29" height="23" fill="url(#rb)"/>
 <rect x="368" y="1518" width="17" height="27"/>
 <rect x="371" y="1515" width="10" height="3" fill="#222"/>
 <circle cx="374" cy="1528" r="1.2" fill="#222"/>
 <circle cx="380" cy="1535" r="1.2" fill="#222"/>
 <polyline points="358,1522 358,1547 385,1547" fill="none"/>
 <line x1="362" y1="1522" x2="362" y2="1545"/>
 <rect x="416" y="1465" width="19" height="105"/>
 <circle cx="425" cy="1474" r="4"/>
 <line x1="424" y1="1465" x2="424" y2="1574" stroke-dasharray="3,2" stroke-width="0.5"/>
 <ellipse cx="424" cy="1524" rx="6" ry="11" transform="rotate(-25 424 1524)"/>
 <line x1="405" y1="1524" x2="455" y2="1524" stroke-width="0.5"/>
</g>
<g stroke="#666" stroke-width="0.5" fill="none">
 <line x1="452" y1="1433" x2="519" y2="1433"/>
 <line x1="435" y1="1573" x2="519" y2="1573"/>
 <line x1="442" y1="1450" x2="469" y2="1467"/>
 <line x1="360" y1="1547" x2="360" y2="1588"/>
 <line x1="488" y1="1530" x2="488" y2="1588"/>
</g>
<g stroke="#555" stroke-width="0.6" marker-start="url(#ar)" marker-end="url(#ar)">
 <line x1="515" y1="1433" x2="515" y2="1573"/>
 <line x1="433" y1="1558" x2="488" y2="1558"/>
 <line x1="360" y1="1585" x2="488" y2="1585"/>
</g>
<g font-family="'Liberation Sans','Noto Sans CJK SC',sans-serif" font-size="8.5" fill="#333" text-anchor="middle">
 <text transform="translate(461,1458) rotate(28)">&gt;130</text>
 <text transform="translate(512,1510) rotate(-90)">B</text>
 <text x="462" y="1555">C</text>
 <text x="425" y="1583">A</text>
</g>

<!-- busbar 4 -->
<g stroke="#333" stroke-width="0.8" fill="#fff">
 <path d="M600,1443 Q608,1434 620,1436 Q632,1439 640,1436 Q655,1430 678,1436 L678,1526 L600,1526 Z"/>
 <circle cx="617" cy="1468" r="9"/>
 <circle cx="663" cy="1468" r="9"/>
 <circle cx="617" cy="1508" r="9"/>
 <circle cx="663" cy="1508" r="9"/>
</g>
<g stroke="#666" stroke-width="0.5" fill="none">
 <line x1="605" y1="1468" x2="702" y2="1468"/>
 <line x1="605" y1="1508" x2="702" y2="1508"/>
 <line x1="678" y1="1526" x2="702" y2="1526"/>
 <line x1="617" y1="1458" x2="617" y2="1540"/>
 <line x1="663" y1="1458" x2="663" y2="1540"/>
 <line x1="600" y1="1526" x2="600" y2="1556"/>
 <line x1="678" y1="1526" x2="678" y2="1556"/>
 <polyline points="632,1455 608,1485 570,1485"/>
</g>
<g stroke="#555" stroke-width="0.6" marker-start="url(#ar)" marker-end="url(#ar)">
 <line x1="692" y1="1468" x2="692" y2="1508"/>
 <line x1="692" y1="1508" x2="692" y2="1526"/>
 <line x1="617" y1="1537" x2="663" y2="1537"/>
 <line x1="600" y1="1553" x2="678" y2="1553"/>
</g>
<g font-family="'Liberation Sans','Noto Sans CJK SC',sans-serif" font-size="8.5" fill="#333" text-anchor="middle">
 <text x="572" y="1482" text-anchor="start">4-φ13</text>
 <text transform="translate(688,1487) rotate(-90)">40</text>
 <text transform="translate(688,1518) rotate(-90)">20</text>
 <text x="640" y="1534.5">40</text>
 <text x="640" y="1550.5">80</text>
 <text x="636" y="1566" font-size="7.5">(1250A)</text>
</g>
<text x="357" y="1636" text-anchor="middle" font-family="'Liberation Serif','Noto Serif CJK SC',serif" font-size="13.5" fill="#333">GN30-12D/1250</text>
</svg>
</body></html>
